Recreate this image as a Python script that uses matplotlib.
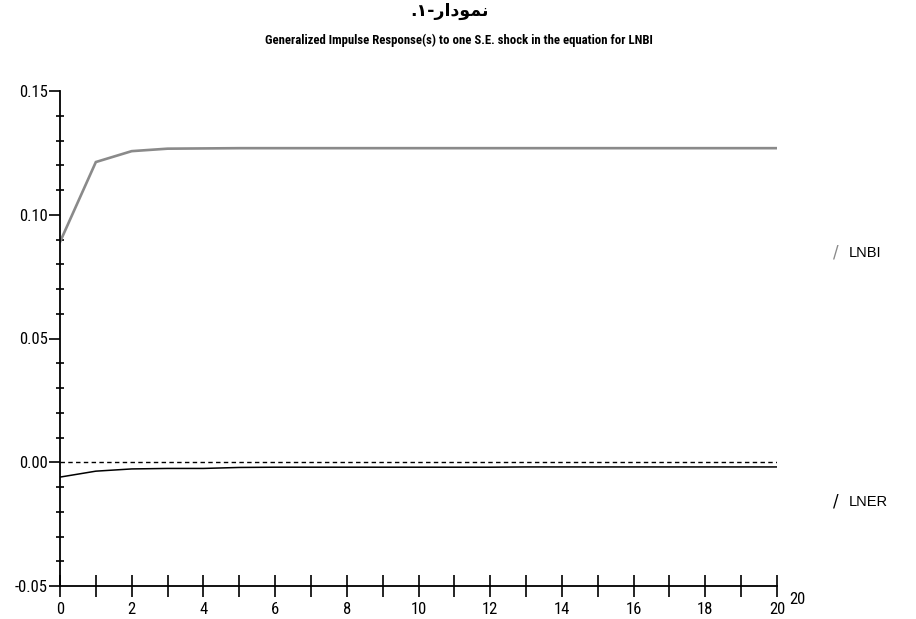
import matplotlib
matplotlib.use("Agg")
import matplotlib.pyplot as plt
from matplotlib.ticker import MultipleLocator, FixedLocator

horizon = list(range(21))
lnbi = [0.0890, 0.1213, 0.1257, 0.1267, 0.1268, 0.1269, 0.1269, 0.1269, 0.1269, 0.1269,
        0.1269, 0.1269, 0.1269, 0.1269, 0.1269, 0.1269, 0.1269, 0.1269, 0.1269, 0.1269, 0.1269]
lner = [-0.0060, -0.0036, -0.0027, -0.0025, -0.0025, -0.0021, -0.0020, -0.0020, -0.0020, -0.0020,
        -0.0020, -0.0020, -0.0020, -0.0019, -0.0019, -0.0019, -0.0019, -0.0019, -0.0019, -0.0019, -0.0019]
series_names = ["LNBI", "LNER"]
x_ticklabels = [str(v) for v in range(0, 21, 2)]
y_ticks = [-0.05, 0.00, 0.05, 0.10, 0.15]

narrow = ["Liberation Sans Narrow", "Arial Narrow", "Roboto Condensed", "DejaVu Sans"]
grey = "#8a8a8a"

fig = plt.figure(figsize=(9.16, 6.19), dpi=100)
ax = fig.add_axes([60/916, 1-586/619, (777-60)/916, (586-91)/619])

ax.plot(horizon, lnbi, color=grey, lw=1.9, solid_joinstyle="miter")
ax.plot(horizon, lner, color="black", lw=1.1)
ax.axhline(0, color="black", lw=1.0, ls=(0, (3.2, 2.4)))

ax.set_xlim(0, 20)
ax.set_ylim(-0.05, 0.15)
for s in ["top", "right"]:
    ax.spines[s].set_visible(False)
for s in ["left", "bottom"]:
    ax.spines[s].set_linewidth(1.3)

ax.xaxis.set_major_locator(FixedLocator(range(0, 21, 2)))
ax.set_xticklabels(x_ticklabels)
ax.xaxis.set_minor_locator(MultipleLocator(1))
ax.tick_params(axis="x", which="both", direction="inout", length=16.5, width=1.2, pad=3)
ax.tick_params(axis="x", which="major", labelsize=12)
ax.set_yticks(y_ticks)
ax.set_yticklabels(["%.2f" % v for v in y_ticks])
ax.yaxis.set_minor_locator(MultipleLocator(0.01))
ax.tick_params(axis="y", which="major", direction="out", length=8, width=1.2, pad=1, labelsize=12)
ax.tick_params(axis="y", which="minor", direction="inout", length=6, width=1.2)
for lab in ax.get_xticklabels() + ax.get_yticklabels():
    lab.set_family(narrow)
    lab.set_stretch("condensed")

fig.text(797/916, 1-600/619, "20", fontsize=12, family=narrow, stretch="condensed",
         ha="center", va="center")

leg_y = [253, 502]
leg_col = [grey, "black"]
for name, yy, c in zip(series_names, leg_y, leg_col):
    fig.text(836/916, 1-yy/619, "/", fontsize=12, color=c, ha="center", va="center",
             family="DejaVu Sans")
    fig.text(849/916, 1-yy/619, name, fontsize=10.5, family=["Liberation Sans", "DejaVu Sans"],
             ha="left", va="center")

persian = ".\u06F1-" + "\uFEAD\uFE8D\uFEA9\uFEEE\uFEE4\uFEE7"
fig.text(450/916, 1-11/619, persian, fontsize=12.5, fontweight="bold", family="DejaVu Sans",
         ha="center", va="center")
fig.text(459/916, 1-40/619, "Generalized Impulse Response(s) to one S.E. shock in the equation for LNBI",
         fontsize=9.2, fontweight="bold", family=narrow, stretch="condensed",
         ha="center", va="center")

fig.savefig("out.png", dpi=100)
